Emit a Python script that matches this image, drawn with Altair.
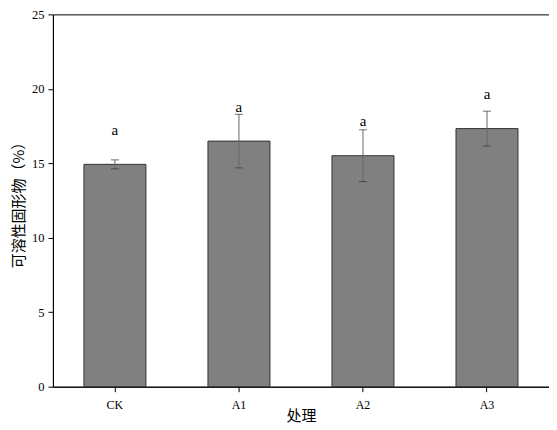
import altair as alt
import pandas as pd

groups = ["CK", "A1", "A2", "A3"]
means = [14.93, 16.49, 15.51, 17.33]
sds = [0.30, 1.80, 1.74, 1.17]
letters = ["a", "a", "a", "a"]
letter_y = [17.24, 18.80, 17.85, 19.63]

df = pd.DataFrame({
    "group": groups,
    "mean": means,
    "lo": [m - s for m, s in zip(means, sds)],
    "hi": [m + s for m, s in zip(means, sds)],
    "letter": letters,
    "ly": letter_y,
})

serif = "Liberation Serif"
cjk = "Noto Sans CJK SC"

x = alt.X("group:N", sort=groups,
          scale=alt.Scale(paddingInner=0.5, paddingOuter=0.25),
          axis=alt.Axis(title="处理", labelAngle=0, labelFont=serif, labelFontSize=12,
                        labelColor="black", labelPadding=8, tickSize=5, tickColor="black",
                        domainColor="black", titleFont=cjk, titleFontSize=15,
                        titleFontWeight="normal", titleColor="black",
                        titleBaseline="bottom", titleY=37, titleAlign="center"))
y = alt.Y("mean:Q", scale=alt.Scale(domain=[0, 25], nice=False),
          axis=alt.Axis(title="可溶性固形物（%）", values=[0, 5, 10, 15, 20, 25],
                        labelFont=serif, labelFontSize=12.5, labelColor="black",
                        labelPadding=4, tickSize=5, tickColor="black", domainColor="black",
                        grid=False, titleFont=cjk, titleFontSize=15,
                        titleFontWeight="normal", titleColor="black",
                        titleAngle=270, titleX=-34, titleY=187,
                        titleAlign="center", titleBaseline="middle"))

bars = alt.Chart(df).mark_bar(color="#808080", stroke="#333333", strokeWidth=1).encode(x=x, y=y)

rules = alt.Chart(df).mark_rule(color="#666666", strokeWidth=1).encode(
    x=alt.X("group:N", sort=groups), y="lo:Q", y2="hi:Q")
cap_lo = alt.Chart(df).mark_tick(color="#333333", size=8, thickness=1).encode(
    x=alt.X("group:N", sort=groups), y="lo:Q")
cap_hi = alt.Chart(df).mark_tick(color="#333333", size=8, thickness=1).encode(
    x=alt.X("group:N", sort=groups), y="hi:Q")
text = alt.Chart(df).mark_text(font=serif, fontSize=15, color="black", baseline="middle").encode(
    x=alt.X("group:N", sort=groups), y="ly:Q", text="letter:N")

chart = alt.layer(bars, rules, cap_lo, cap_hi, text).properties(
    width=497, height=373,
    autosize=alt.AutoSizeParams(type="none"),
    padding={"left": 45, "top": 6, "right": 0, "bottom": 42},
).configure_view(stroke="black", strokeWidth=1).configure_axis(grid=False)

chart.save("out.html", embed_options={"renderer": "svg", "actions": False})
